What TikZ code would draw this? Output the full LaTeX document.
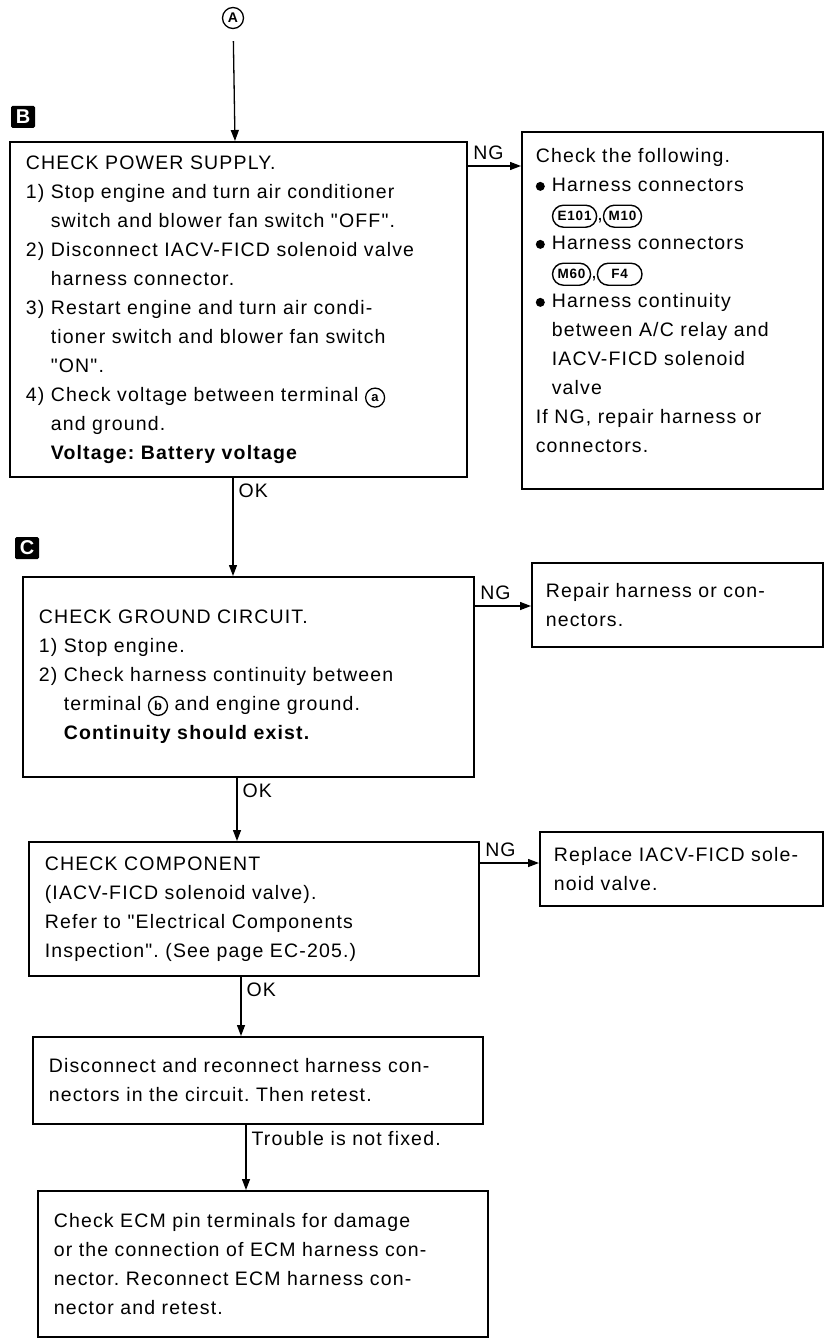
\documentclass[tikz,border=0pt]{standalone}
\usepackage{fontspec}
\setmainfont[LetterSpace=6,Ligatures=TeXOff]{Liberation Sans}
\usepackage{tikz}
\usetikzlibrary{arrows.meta,shapes.misc,calc}
\frenchspacing
\tikzset{
  chkbox/.style={rectangle,draw=black,line width=1.6pt,anchor=north west,align=left,inner xsep=16pt,inner ysep=4pt,font=\fontsize{19.5}{29}\selectfont},
  sidebox/.style={chkbox,inner xsep=14pt},
  tagmark/.style={rectangle,rounded corners=1.5pt,fill=black,text=white,font=\bfseries\fontsize{20}{20}\selectfont,minimum width=24pt,minimum height=22pt,inner sep=0pt},
  ringmark/.style={circle,draw=black,line width=1.3pt,inner sep=0pt,minimum size=19pt,font=\bfseries\fontsize{13}{13}\selectfont},
  lbl/.style={font=\fontsize{19.5}{20}\selectfont,execute at begin node={\spaceskip=.3333em\relax},inner sep=0pt},
  arr/.style={-{Triangle[length=11pt,width=8pt]},line width=1.3pt}
}
\newcommand\ind{\phantom{1) }}
\newcommand\rng[1]{\tikz[baseline=(rg.base)]\node[text width=,align=center,anchor=center,text=black,fill=none,ringmark](rg){#1};}
\newcommand\cnr[1]{\tikz[baseline=(cn.base)]\node[rounded rectangle,draw=black,line width=1.4pt,text width=,minimum width=0pt,minimum height=22pt,inner xsep=4pt,inner ysep=1pt,align=center,anchor=center,font=\bfseries\fontsize{13.5}{13.5}\selectfont](cn){#1};}
\newcommand\blt{\tikz[baseline=-5.5pt]\fill (4.5pt,0) circle (4.5pt);\hspace{7pt}}
\begin{document}
\begin{tikzpicture}[x=1pt,y=-1pt]
  \useasboundingbox (0,0) rectangle (825,1343);
  \coordinate (xa) at (235,0);
  \coordinate (xb) at (233,0);
  \coordinate (xc) at (237,0);
  \coordinate (xd) at (241,0);
  \coordinate (xe) at (246,0);

  \node[ringmark,minimum size=21pt,font=\bfseries\fontsize{14}{14}\selectfont] (ca) at (233,18) {A};
  \node[tagmark] (lb) at (23,117) {B};
  \node[tagmark] (lc) at (27,548) {C};

  \node[chkbox,minimum width=457pt,minimum height=335pt,text width=425pt] (pwr) at (9,141) {CHECK POWER SUPPLY.\\
1) Stop engine and turn air conditioner\\
\ind switch and blower fan switch "OFF".\\
2) Disconnect IACV-FICD solenoid valve\\
\ind harness connector.\\
3) Restart engine and turn air condi-\\
\ind tioner switch and blower fan switch\\
\ind "ON".\\
4) Check voltage between terminal \rng{a}\\
\ind and ground.\\
\ind\textbf{Voltage: Battery voltage}};
  \node[sidebox,minimum width=301pt,minimum height=357pt,text width=273pt] (pwrng) at (521,131) {Check the following.\\
\blt Harness connectors\\
\phantom{\blt}\cnr{E101},\cnr{M10}\\
\blt Harness connectors\\
\phantom{\blt}\cnr{M60},\cnr{\hspace{9pt}F4\hspace{9pt}}\\
\blt Harness continuity\\
\phantom{\blt}between A/C relay and\\
\phantom{\blt}IACV-FICD solenoid\\
\phantom{\blt}valve\\
If NG, repair harness or\\
connectors.\\[-10pt]\mbox{}};

  \node[chkbox,minimum width=451pt,minimum height=200pt,text width=419pt] (gnd) at (22,576) {CHECK GROUND CIRCUIT.\\
1) Stop engine.\\
2) Check harness continuity between\\
\ind terminal \rng{b} and engine ground.\\
\ind\textbf{Continuity should exist.}};
  \node[sidebox,minimum width=291pt,minimum height=84pt,text width=263pt] (gndng) at (531,562) {Repair harness or con-\\nectors.};

  \node[chkbox,minimum width=450pt,minimum height=134pt,text width=418pt] (comp) at (28,841) {CHECK COMPONENT\\
(IACV-FICD solenoid valve).\\
Refer to "Electrical Components\\
Inspection". (See page EC-205.)};
  \node[sidebox,minimum width=283pt,minimum height=74pt,text width=255pt] (compng) at (539,831) {Replace IACV-FICD sole-\\noid valve.};

  \node[chkbox,minimum width=450pt,minimum height=87pt,text width=418pt] (recon) at (32,1036) {Disconnect and reconnect harness con-\\nectors in the circuit. Then retest.};
  \node[chkbox,minimum width=450pt,minimum height=146pt,text width=418pt] (ecm) at (37,1190) {Check ECM pin terminals for damage\\
or the connection of ECM harness con-\\
nector. Reconnect ECM harness con-\\
nector and retest.};

  \draw[arr,shorten <=12pt] (ca) -- (pwr.north -| xa);
  \draw[arr] (pwr.south -| xb) -- (gnd.north -| xb) node[lbl,pos=0,anchor=north west,xshift=5pt,yshift=-6pt] (ok1) {OK};
  \draw[arr] (gnd.south -| xc) -- (comp.north -| xc) node[lbl,pos=0,anchor=north west,xshift=5pt,yshift=-6pt] (ok2) {OK};
  \draw[arr] (comp.south -| xd) -- (recon.north -| xd) node[lbl,pos=0,anchor=north west,xshift=5pt,yshift=-6pt] (ok3) {OK};
  \draw[arr] (recon.south -| xe) -- (ecm.north -| xe) node[lbl,pos=0,anchor=north west,xshift=5pt,yshift=-6pt] (nofix) {Trouble is not fixed.};

  \draw[arr] ([yshift=-25pt]pwr.north east) -- ([yshift=-25pt]pwr.north east -| pwrng.west) node[lbl,pos=0,anchor=south west,xshift=5pt,yshift=6pt] (ng1) {NG};
  \draw[arr] ([yshift=-30pt]gnd.north east) -- ([yshift=-30pt]gnd.north east -| gndng.west) node[lbl,pos=0,anchor=south west,xshift=5pt,yshift=6pt] (ng2) {NG};
  \draw[arr] ([yshift=-22pt]comp.north east) -- ([yshift=-22pt]comp.north east -| compng.west) node[lbl,pos=0,anchor=south west,xshift=5pt,yshift=6pt] (ng3) {NG};
\end{tikzpicture}
\end{document}
